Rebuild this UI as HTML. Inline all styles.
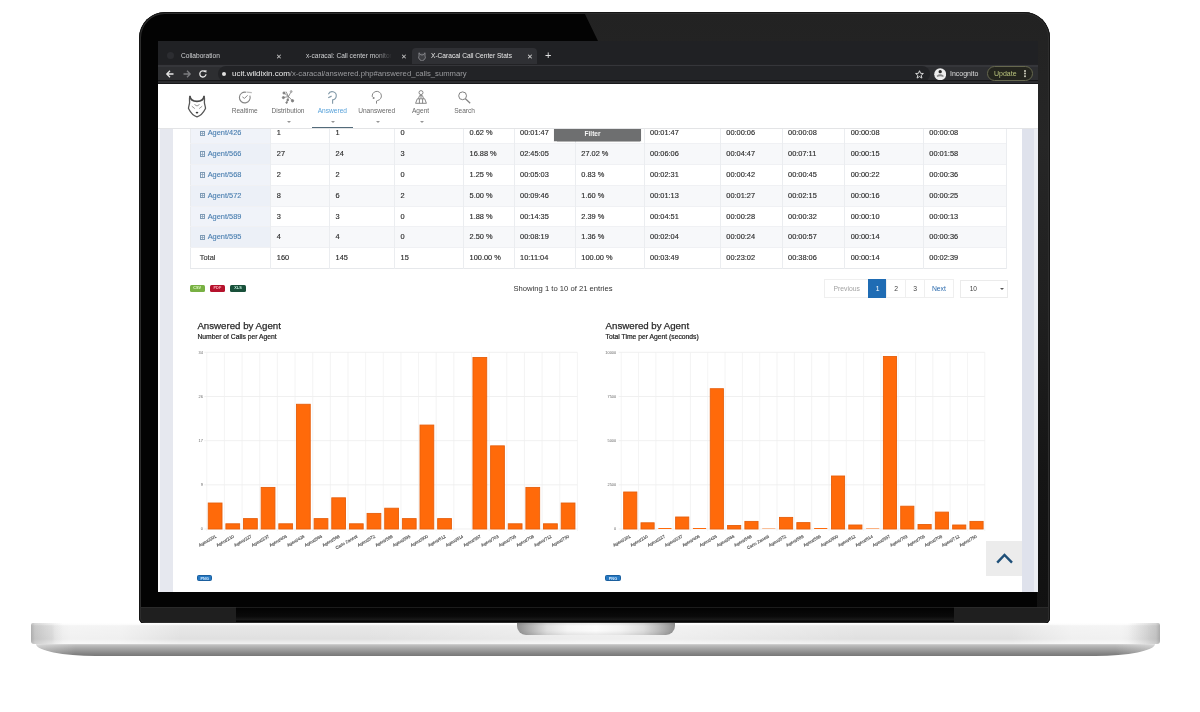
<!DOCTYPE html>
<html><head><meta charset="utf-8"><title>X-Caracal Call Center Stats</title>
<style>
*{margin:0;padding:0;box-sizing:border-box}
html,body{width:1200px;height:712px;overflow:hidden;background:#fff;font-family:"Liberation Sans",Arial,sans-serif}
.a{position:absolute}
#lid{left:139px;top:12px;width:911px;height:611.5px;background:#030303;border-radius:26px 26px 6px 6px;overflow:hidden}
#refl{left:0;top:0;width:911px;height:611px;background:linear-gradient(#222 0,#262626 130px,#202020 290px,#151515 460px,#111 611px);clip-path:polygon(445px 0,911px 0,911px 611px,898px 611px,898px 29px,459px 29px)}
#hinge{left:0;top:594.5px;width:911px;height:15px;background:#1f1f1f;border-top:1px solid #2a2a2a}
#hingeb{left:97px;top:594.5px;width:718px;height:15px;border-top:1px solid #1c1c1c;background:linear-gradient(#030303,#0a0a0a 60%,#1a1a1a 85%,#050505 92%)}
#screen{left:158px;top:41px;width:880px;height:551px;background:#fff;overflow:hidden}
#base{left:31px;top:623px;width:1129px;height:20.5px;border-radius:2px 2px 3px 3px;
 background:linear-gradient(90deg,rgba(100,100,100,.42) 0,rgba(120,120,120,.28) 4px,rgba(130,130,130,.18) 14px,rgba(150,150,150,.09) 24px,rgba(255,255,255,0) 32px,rgba(255,255,255,0) 1097px,rgba(150,150,150,.09) 1105px,rgba(130,130,130,.18) 1115px,rgba(120,120,120,.3) 1125px,rgba(100,100,100,.45) 1129px),
 linear-gradient(90deg,rgba(255,255,255,0) 0,rgba(255,255,255,0) 21px,rgba(255,255,255,.3) 24px,rgba(255,255,255,.55) 40px,rgba(255,255,255,.5) 90px,rgba(255,255,255,0) 150px,rgba(255,255,255,0) 330px,rgba(255,255,255,.45) 560px,rgba(255,255,255,.45) 640px,rgba(255,255,255,0) 830px,rgba(255,255,255,0) 980px,rgba(255,255,255,.5) 1040px,rgba(255,255,255,.55) 1090px,rgba(255,255,255,0) 1120px),
 linear-gradient(#fdfdfd 0,#fcfcfc 1.2px,#e8e8e8 2.8px,#e0e0e0 16px,#eaeaea 18.5px,#f0f0f0 20.5px)}
#base2{left:36px;top:643.5px;width:1119px;height:12.5px;border-radius:0 0 62px 62px / 0 0 12.5px 12.5px;
 background:linear-gradient(90deg,rgba(255,255,255,.35) 0,rgba(255,255,255,0) 40px,rgba(255,255,255,0) 1079px,rgba(255,255,255,.35) 1119px),linear-gradient(#d4d4d4 0,#bcbcbc 1.5px,#a2a2a2 5px,#888 9px,#747474 12.5px)}
#notch{left:516.5px;top:623px;width:158.5px;height:12px;border-radius:0 0 9px 9px;
 background:linear-gradient(rgba(0,0,0,.06) 0,rgba(0,0,0,0) 25%,rgba(0,0,0,0) 65%,rgba(0,0,0,.07) 100%),linear-gradient(90deg,#8e8e8e 0,#a4a4a4 5%,#bdbdbd 11%,#dedede 19%,#f4f4f4 32%,#fbfbfb 50%,#f2f2f2 66%,#dcdcdc 80%,#bdbdbd 89%,#a4a4a4 95%,#8e8e8e 100%)}
/* chrome */
#tabs{left:0;top:0;width:880px;height:23px;background:#202124}
#toolbar{left:0;top:23px;width:880px;height:20px;background:linear-gradient(#222225 0,#222225 1.3px,#2d2e31 1.3px)}
.tab{position:absolute;top:7px;height:16px;color:#cfd0d2;font-size:6.6px;line-height:16px;white-space:nowrap}
.tx{position:absolute;top:7px;height:16px;line-height:16px;color:#bdbdbd;font-size:7px}
#nav{left:0;top:43px;width:880px;height:44.6px;background:#fff;border-bottom:1px solid #e3e4e6;z-index:2}
#page{left:0;top:87px;width:880px;height:464px;background:linear-gradient(90deg,#fbfbfd 0,#fbfbfd 2px,#e6e8ef 2.5px,#e6e8ef 864px,#dfe2ec 864px,#dfe2ec 875.6px,#eceef3 876px);overflow:hidden}
#card{left:15px;top:0;width:849px;height:464px;background:#fff}
.nl{position:absolute;top:22.5px;width:60px;margin-left:-30px;text-align:center;font-size:6.6px;line-height:8px;color:#6a6a6a;white-space:nowrap}
.cr{position:absolute;top:37px;width:0;height:0;border-left:2px solid transparent;border-right:2px solid transparent;border-top:2.4px solid #959595}
#tbl{left:31.8px;top:-5.7px;border-collapse:collapse;table-layout:fixed;width:816.2px;font-size:7.4px;color:#2c2c2c;-webkit-text-stroke:0.15px #2c2c2c;border-left:1px solid #e9ebee;border-bottom:1px solid #e6e8eb}
#tbl td{height:20.8px;padding:0 0 0 5.5px;border-right:1px solid #ebedf0;border-top:1px solid #f0f1f4;white-space:nowrap;line-height:19.6px;background:#fff}
#tbl tr.odd td{background:#f7f8fa}
#tbl td.c1{background:#f0f3f9;padding-left:9px}
#tbl tr.odd td.c1{background:#ecf0f7}
#tbl td.c1t{background:#fff;padding-left:9px;color:#444}
.lk{color:#4a7fb0;-webkit-text-stroke:0.12px #4a7fb0}
.pl{display:inline-block;width:5.4px;height:5.4px;border:0.8px solid #7f9bb5;margin-right:2.5px;vertical-align:-0.5px;background:linear-gradient(#7f9bb5,#7f9bb5) center/100% 0.7px no-repeat,linear-gradient(#7f9bb5,#7f9bb5) center/0.7px 100% no-repeat}
#filter{left:395.75px;top:-2px;width:87.5px;height:14.5px;padding-right:10px;background:#6e6f70;color:#f4f4f4;font-weight:bold;font-size:6.6px;line-height:15px;text-align:center;box-shadow:0 0.5px 1px rgba(0,0,0,.3)}
.bd{position:absolute;width:15.4px;height:6.6px;border-radius:1.5px;font-size:3.8px;line-height:7.2px;text-align:center;font-weight:bold;letter-spacing:0.1px}
#pag{width:129.6px;height:18.5px}
.pg{position:absolute;top:0;height:18.5px;border:1px solid #efefef;border-right:none;text-align:center;font-size:6.8px;line-height:18px;background:#fff}
.ct{position:absolute;font-size:9.7px;line-height:12px;color:#2a2a2a;white-space:nowrap;-webkit-text-stroke:0.25px #2a2a2a}
.cs{position:absolute;font-size:6.75px;line-height:8px;color:#222;white-space:nowrap;-webkit-text-stroke:0.2px #222}
</style></head><body>
<div id="lid" class="a">
  <div id="refl" class="a"></div>
  <div id="hinge" class="a"></div>
  <div id="hingeb" class="a"></div>
  <div class="a" style="left:0;top:0;width:911px;height:611.5px;border-radius:26px 26px 6px 6px;box-shadow:inset 0 0 0 0.9px #151515,inset 0 0 0 2px #2d2d2d"></div>
</div>
<div id="base" class="a"></div>
<div id="base2" class="a"></div>
<div id="notch" class="a"></div>
<div id="screen" class="a">

  <div id="tabs" class="a">
    <div class="a" style="left:9px;top:11px;width:7px;height:7px;border-radius:50%;background:#2c2d31"></div>
    <div class="tab" style="left:23px">Collaboration</div>
    <div class="a" style="left:118px;top:12px;color:#d0d0d0;font-size:7px;line-height:7px">&#x2715;</div>
        <div class="tab" style="left:148px;width:86px;overflow:hidden;-webkit-mask-image:linear-gradient(90deg,#000 80%,transparent)">x-caracal: Call center monitoring</div>
    <div class="a" style="left:243px;top:12px;color:#d0d0d0;font-size:7px;line-height:7px">&#x2715;</div>
    <div class="a" style="left:254px;top:7px;width:125px;height:16px;background:#2f3034;border-radius:4px 4px 0 0"></div>
    <svg class="a" style="left:259.5px;top:10.5px" width="8" height="9.6" viewBox="0 0 20 24"><path d="M2.9 1.9 C3.3 5.6 6.5 7.4 10 7.4 C13.5 7.4 16.7 5.6 17.1 1.9 M2.9 1.9 C2.2 4 2.6 6.5 2.6 8.5 C2.6 10.5 1.4 12.5 1.5 14.5 C3.5 18.5 7 22 10 22.8 C13 22 16.5 18.5 18.5 14.5 C18.6 12.5 17.4 10.5 17.4 8.5 C17.4 6.5 17.8 4 17.1 1.9" fill="#3e3f43" stroke="#8a8b8f" stroke-width="2.4"/></svg>
    <div class="tab" style="left:273px;color:#e8e8e8">X-Caracal Call Center Stats</div>
    <div class="a" style="left:369px;top:12px;color:#e0e0e0;font-size:7px;line-height:7px">&#x2715;</div>
    <div class="a" style="left:387px;top:9px;color:#e0e0e0;font-size:11px;line-height:11px">+</div>
  </div>
  <div id="toolbar" class="a">
    <div class="a" style="left:0;top:1.3px;width:880px;height:1.3px;background:#35363a"></div>
    <div class="a" style="left:0;top:16.3px;width:880px;height:1px;background:#161618;z-index:1"></div>
    <div class="a" style="left:0;top:17.3px;width:880px;height:1.2px;background:#2b2b2e;z-index:1"></div>
    <div class="a" style="left:0;top:18.5px;width:880px;height:1.5px;background:#18181a;z-index:1"></div>
    <svg class="a" style="left:7px;top:5px" width="10" height="10" viewBox="0 0 10 10"><path d="M8.5 5H2M5 1.8L1.8 5 5 8.2" stroke="#e6e6e6" stroke-width="1.3" fill="none"/></svg>
    <svg class="a" style="left:24px;top:5px" width="10" height="10" viewBox="0 0 10 10"><path d="M1.5 5H8M5 1.8L8.2 5 5 8.2" stroke="#7c7d80" stroke-width="1.3" fill="none"/></svg>
    <svg class="a" style="left:40px;top:5px" width="10" height="10" viewBox="0 0 10 10"><path d="M8 5.2A3.1 3.1 0 1 1 7.1 2.7" stroke="#e6e6e6" stroke-width="1.3" fill="none"/><path d="M5.8 1.4L8.6 1.2 8.2 4z" fill="#e6e6e6"/></svg>
    <div class="a" style="left:60px;top:2px;width:712px;height:16px;border-radius:8px;background:#222326"></div>
    <div class="a" style="left:64px;top:8px;width:4px;height:4px;border-radius:50%;background:#e0e0e0"></div>
    <div class="a" style="left:74px;top:3px;line-height:14px;font-size:8px;color:#9a9b9e;white-space:nowrap"><span style="color:#ececec">ucit.wildixin.com</span><span style="font-size:7.7px">/x-caracal/answered.php#answered_calls_summary</span></div>
    <svg class="a" style="left:756.5px;top:5.5px" width="9" height="9" viewBox="0 0 10 10"><path d="M5 0.8 L6.2 3.7 L9.3 3.9 L6.9 5.9 L7.7 9 L5 7.3 L2.3 9 L3.1 5.9 L0.7 3.9 L3.8 3.7Z" fill="none" stroke="#e6e6e6" stroke-width="1"/></svg>
    <svg class="a" style="left:775.5px;top:3.8px" width="12.4" height="12.4" viewBox="0 0 12 12"><circle cx="6" cy="6" r="5.8" fill="#ededed"/><circle cx="6" cy="3.6" r="1.6" fill="#2a2a2a"/><path d="M2.6 7.4 Q6 4.6 9.4 7.4 L9 8.6 Q6 7.6 3 8.6Z" fill="#8a8a8a"/></svg>
    <div class="a" style="left:792px;top:3px;line-height:14px;font-size:7px;color:#dedede">Incognito</div>
    <div class="a" style="left:829px;top:2.4px;width:46px;height:15px;border-radius:7.5px;border:1.5px solid #66684e;background:#24251e;z-index:2"></div>
    <div class="a" style="left:836px;top:3px;line-height:14px;font-size:7px;color:#b9c47c;z-index:3">Update</div>
    <div class="a" style="left:866px;top:6px;width:1.6px;height:1.6px;border-radius:50%;background:#c0c0b0;box-shadow:0 2.6px 0 #c0c0b0,0 5.2px 0 #c0c0b0;z-index:3"></div>
  </div>
  <div id="nav" class="a">
    <svg class="a" style="left:29px;top:10px" width="20" height="24" viewBox="0 0 20 24">
      <path d="M2.9 1.9 C3.3 5.6 6.5 7.4 10 7.4 C13.5 7.4 16.7 5.6 17.1 1.9" fill="none" stroke="#4a4a4a" stroke-width="1.6"/>
      <path d="M2.9 1.9 C2.2 4 2.6 6.5 2.6 8.5 C2.6 10.5 1.4 12.5 1.5 14.5 C3.5 18.5 7 22 10 22.8 C13 22 16.5 18.5 18.5 14.5 C18.6 12.5 17.4 10.5 17.4 8.5 C17.4 6.5 17.8 4 17.1 1.9" fill="none" stroke="#555" stroke-width="1.3" stroke-linejoin="round"/>
      <path d="M4.8 12.2 L7.8 14.6 M15.2 12.2 L12.2 14.6 M7.5 10.5 L10 12 L12.5 10.5" fill="none" stroke="#8a8a8a" stroke-width="0.9"/>
      <ellipse cx="10" cy="18.6" rx="1.3" ry="0.9" fill="#3a3a3a"/>
    </svg>
    <svg class="a" style="left:80px;top:6px" width="16" height="14" viewBox="0 0 16 14"><path d="M11.87 5.65 A5.4 5.4 0 1 1 8.2 2.28" fill="none" stroke="#858585" stroke-width="1.1"/><path d="M8.6 2.2 L13.8 2.6" stroke="#bdbdbd" stroke-width="1.2"/><path d="M4.4 6.9 L6.5 8.4 L9.6 5.3" fill="none" stroke="#8a8a8a" stroke-width="1"/></svg>
    <svg class="a" style="left:123px;top:5px" width="14" height="16" viewBox="0 0 14 16"><g stroke="#7e7e7e" stroke-width="0.8" fill="#7e7e7e"><path d="M7.5 7.5 L3 4 M7.5 7.5 L5 2.6 M7.5 7.5 L10.2 2.6 M7.5 7.5 L2.4 8.6 M7.5 7.5 L6.7 11 L5.6 13.6 M7.5 7.5 L11.5 11.8" fill="none"/><circle cx="3" cy="4" r="1.1"/><circle cx="2.4" cy="8.6" r="1.1"/><circle cx="10.2" cy="2.6" r="1" fill="#aaa" stroke="#aaa"/><circle cx="6.7" cy="11" r="0.9"/><circle cx="5.6" cy="13.6" r="0.8"/><circle cx="11.5" cy="11.8" r="1.2"/></g></svg>
    <svg class="a" style="left:167px;top:5px" width="14" height="16" viewBox="0 0 14 16"><path d="M3.4 5.2 A4.1 4.1 0 1 1 7.6 10.9 V14.7" fill="none" stroke="#8299a8" stroke-width="1.1"/><path d="M3.2 8.7 L6.6 7.1" stroke="#8299a8" stroke-width="1.2"/></svg>
    <svg class="a" style="left:212px;top:5px" width="14" height="16" viewBox="0 0 14 16"><path d="M2.3 7.9 A4.6 4.6 0 1 1 7.6 11.5 L6.5 12 V14.6" fill="none" stroke="#858585" stroke-width="1"/><circle cx="3.6" cy="9" r="1" fill="#858585"/></svg>
    <svg class="a" style="left:255.5px;top:5px" width="14" height="16" viewBox="0 0 14 16"><g fill="none" stroke="#7a7a7a" stroke-width="0.9" stroke-linejoin="round"><circle cx="7" cy="3.6" r="2"/><path d="M4.4 9.6 L5.6 6.6 H8.4 L9.6 9.6 M7 6.6 V9.4"/><path d="M1.6 14.3 L3.3 9.8 H10.7 L12.4 14.3 Z M5.4 9.8 V14.3 M8.6 9.8 V14.3"/></g></svg>
    <svg class="a" style="left:300px;top:5px" width="14" height="16" viewBox="0 0 14 16"><circle cx="4.6" cy="6.8" r="3.9" fill="none" stroke="#808080" stroke-width="1"/><path d="M7.4 9.7 L12.2 14.2" stroke="#808080" stroke-width="1.2"/></svg>
    <div class="nl" style="left:86.7px">Realtime</div>
    <div class="nl" style="left:130px">Distribution</div>
    <div class="nl" style="left:174.4px;color:#58a2da">Answered</div>
    <div class="nl" style="left:218.7px">Unanswered</div>
    <div class="nl" style="left:262.6px">Agent</div>
    <div class="nl" style="left:306.6px">Search</div>
    <div class="cr" style="left:129px"></div>
    <div class="cr" style="left:173.4px"></div>
    <div class="cr" style="left:217.7px"></div>
    <div class="cr" style="left:261.6px"></div>
    <div class="a" style="left:154px;top:42.5px;width:41px;height:1.2px;background:#536b7a"></div>
  </div>
  <div id="page" class="a"><div id="card" class="a"></div>
<table id="tbl" class="a"><colgroup><col style="width:80.5px"><col style="width:58.75px"><col style="width:65px"><col style="width:69px"><col style="width:50.5px"><col style="width:61.25px"><col style="width:68.75px"><col style="width:76.25px"><col style="width:61.75px"><col style="width:62.7px"><col style="width:78.6px"><col style="width:83.1px"></colgroup>
<tr><td class="c1"><span class="pl"></span><span class="lk">Agent/426</span></td><td>1</td><td>1</td><td>0</td><td>0.62 %</td><td>00:01:47</td><td></td><td>00:01:47</td><td>00:00:06</td><td>00:00:08</td><td>00:00:08</td><td>00:00:08</td></tr>
<tr class="odd"><td class="c1"><span class="pl"></span><span class="lk">Agent/566</span></td><td>27</td><td>24</td><td>3</td><td>16.88 %</td><td>02:45:05</td><td>27.02 %</td><td>00:06:06</td><td>00:04:47</td><td>00:07:11</td><td>00:00:15</td><td>00:01:58</td></tr>
<tr><td class="c1"><span class="pl"></span><span class="lk">Agent/568</span></td><td>2</td><td>2</td><td>0</td><td>1.25 %</td><td>00:05:03</td><td>0.83 %</td><td>00:02:31</td><td>00:00:42</td><td>00:00:45</td><td>00:00:22</td><td>00:00:36</td></tr>
<tr class="odd"><td class="c1"><span class="pl"></span><span class="lk">Agent/572</span></td><td>8</td><td>6</td><td>2</td><td>5.00 %</td><td>00:09:46</td><td>1.60 %</td><td>00:01:13</td><td>00:01:27</td><td>00:02:15</td><td>00:00:16</td><td>00:00:25</td></tr>
<tr><td class="c1"><span class="pl"></span><span class="lk">Agent/589</span></td><td>3</td><td>3</td><td>0</td><td>1.88 %</td><td>00:14:35</td><td>2.39 %</td><td>00:04:51</td><td>00:00:28</td><td>00:00:32</td><td>00:00:10</td><td>00:00:13</td></tr>
<tr class="odd"><td class="c1"><span class="pl"></span><span class="lk">Agent/595</span></td><td>4</td><td>4</td><td>0</td><td>2.50 %</td><td>00:08:19</td><td>1.36 %</td><td>00:02:04</td><td>00:00:24</td><td>00:00:57</td><td>00:00:14</td><td>00:00:36</td></tr>
<tr><td class="c1t">Total</td><td>160</td><td>145</td><td>15</td><td>100.00 %</td><td>10:11:04</td><td>100.00 %</td><td>00:03:49</td><td>00:23:02</td><td>00:38:06</td><td>00:00:14</td><td>00:02:39</td></tr>
</table>
<div class="a" id="filter">Filter</div>
<div class="bd" style="left:31.5px;top:157.3px;background:#78b043;color:#e4fbc8">CSV</div>
<div class="bd" style="left:51.7px;top:157.3px;background:#b5122c;color:#ffb0bd">PDF</div>
<div class="bd" style="left:72.3px;top:157.3px;background:#19503a;color:#c0eedb">XLS</div>
<div class="a" style="left:355.5px;top:155.5px;font-size:7.65px;line-height:9px;color:#333;white-space:nowrap">Showing 1 to 10 of 21 entries</div>

<div class="ct" style="left:39.4px;top:191.5px">Answered by Agent</div>
<div class="cs" style="left:39.4px;top:204.5px">Number of Calls per Agent</div>
<div class="ct" style="left:447.6px;top:191.5px">Answered by Agent</div>
<div class="cs" style="left:447.6px;top:204.5px">Total Time per Agent (seconds)</div>
<svg class="a" style="left:0;top:0" width="880" height="464" viewBox="158 128 880 464" font-family="Liberation Sans, Arial, sans-serif">
<line x1="204.30" y1="352.30" x2="577.40" y2="352.30" stroke="#e9e9e9" stroke-width="0.7"/>
<text x="202.80" y="353.70" text-anchor="end" font-size="3.9" fill="#666">34</text>
<line x1="204.30" y1="396.48" x2="577.40" y2="396.48" stroke="#e9e9e9" stroke-width="0.7"/>
<text x="202.80" y="397.88" text-anchor="end" font-size="3.9" fill="#666">26</text>
<line x1="204.30" y1="440.65" x2="577.40" y2="440.65" stroke="#e9e9e9" stroke-width="0.7"/>
<text x="202.80" y="442.05" text-anchor="end" font-size="3.9" fill="#666">17</text>
<line x1="204.30" y1="484.82" x2="577.40" y2="484.82" stroke="#e9e9e9" stroke-width="0.7"/>
<text x="202.80" y="486.22" text-anchor="end" font-size="3.9" fill="#666">9</text>
<line x1="204.30" y1="529.00" x2="577.40" y2="529.00" stroke="#e9e9e9" stroke-width="0.7"/>
<text x="202.80" y="530.40" text-anchor="end" font-size="3.9" fill="#666">0</text>
<line x1="206.80" y1="352.30" x2="206.80" y2="531.00" stroke="#efefef" stroke-width="0.7"/>
<line x1="224.45" y1="352.30" x2="224.45" y2="531.00" stroke="#efefef" stroke-width="0.7"/>
<line x1="242.10" y1="352.30" x2="242.10" y2="531.00" stroke="#efefef" stroke-width="0.7"/>
<line x1="259.74" y1="352.30" x2="259.74" y2="531.00" stroke="#efefef" stroke-width="0.7"/>
<line x1="277.39" y1="352.30" x2="277.39" y2="531.00" stroke="#efefef" stroke-width="0.7"/>
<line x1="295.04" y1="352.30" x2="295.04" y2="531.00" stroke="#efefef" stroke-width="0.7"/>
<line x1="312.69" y1="352.30" x2="312.69" y2="531.00" stroke="#efefef" stroke-width="0.7"/>
<line x1="330.33" y1="352.30" x2="330.33" y2="531.00" stroke="#efefef" stroke-width="0.7"/>
<line x1="347.98" y1="352.30" x2="347.98" y2="531.00" stroke="#efefef" stroke-width="0.7"/>
<line x1="365.63" y1="352.30" x2="365.63" y2="531.00" stroke="#efefef" stroke-width="0.7"/>
<line x1="383.28" y1="352.30" x2="383.28" y2="531.00" stroke="#efefef" stroke-width="0.7"/>
<line x1="400.92" y1="352.30" x2="400.92" y2="531.00" stroke="#efefef" stroke-width="0.7"/>
<line x1="418.57" y1="352.30" x2="418.57" y2="531.00" stroke="#efefef" stroke-width="0.7"/>
<line x1="436.22" y1="352.30" x2="436.22" y2="531.00" stroke="#efefef" stroke-width="0.7"/>
<line x1="453.87" y1="352.30" x2="453.87" y2="531.00" stroke="#efefef" stroke-width="0.7"/>
<line x1="471.51" y1="352.30" x2="471.51" y2="531.00" stroke="#efefef" stroke-width="0.7"/>
<line x1="489.16" y1="352.30" x2="489.16" y2="531.00" stroke="#efefef" stroke-width="0.7"/>
<line x1="506.81" y1="352.30" x2="506.81" y2="531.00" stroke="#efefef" stroke-width="0.7"/>
<line x1="524.46" y1="352.30" x2="524.46" y2="531.00" stroke="#efefef" stroke-width="0.7"/>
<line x1="542.10" y1="352.30" x2="542.10" y2="531.00" stroke="#efefef" stroke-width="0.7"/>
<line x1="559.75" y1="352.30" x2="559.75" y2="531.00" stroke="#efefef" stroke-width="0.7"/>
<line x1="577.40" y1="352.30" x2="577.40" y2="531.00" stroke="#efefef" stroke-width="0.7"/>
<rect x="208.24" y="503.01" width="13.77" height="25.99" fill="#ff6a0a" stroke="#e75f0c" stroke-width="0.9"/>
<rect x="225.89" y="523.80" width="13.77" height="5.20" fill="#ff6a0a" stroke="#e75f0c" stroke-width="0.9"/>
<rect x="243.54" y="518.61" width="13.77" height="10.39" fill="#ff6a0a" stroke="#e75f0c" stroke-width="0.9"/>
<rect x="261.18" y="487.42" width="13.77" height="41.58" fill="#ff6a0a" stroke="#e75f0c" stroke-width="0.9"/>
<rect x="278.83" y="523.80" width="13.77" height="5.20" fill="#ff6a0a" stroke="#e75f0c" stroke-width="0.9"/>
<rect x="296.48" y="404.27" width="13.77" height="124.73" fill="#ff6a0a" stroke="#e75f0c" stroke-width="0.9"/>
<rect x="314.13" y="518.61" width="13.77" height="10.39" fill="#ff6a0a" stroke="#e75f0c" stroke-width="0.9"/>
<rect x="331.77" y="497.82" width="13.77" height="31.18" fill="#ff6a0a" stroke="#e75f0c" stroke-width="0.9"/>
<rect x="349.42" y="523.80" width="13.77" height="5.20" fill="#ff6a0a" stroke="#e75f0c" stroke-width="0.9"/>
<rect x="367.07" y="513.41" width="13.77" height="15.59" fill="#ff6a0a" stroke="#e75f0c" stroke-width="0.9"/>
<rect x="384.72" y="508.21" width="13.77" height="20.79" fill="#ff6a0a" stroke="#e75f0c" stroke-width="0.9"/>
<rect x="402.37" y="518.61" width="13.77" height="10.39" fill="#ff6a0a" stroke="#e75f0c" stroke-width="0.9"/>
<rect x="420.01" y="425.06" width="13.77" height="103.94" fill="#ff6a0a" stroke="#e75f0c" stroke-width="0.9"/>
<rect x="437.66" y="518.61" width="13.77" height="10.39" fill="#ff6a0a" stroke="#e75f0c" stroke-width="0.9"/>
<rect x="472.96" y="357.50" width="13.77" height="171.50" fill="#ff6a0a" stroke="#e75f0c" stroke-width="0.9"/>
<rect x="490.60" y="445.85" width="13.77" height="83.15" fill="#ff6a0a" stroke="#e75f0c" stroke-width="0.9"/>
<rect x="508.25" y="523.80" width="13.77" height="5.20" fill="#ff6a0a" stroke="#e75f0c" stroke-width="0.9"/>
<rect x="525.90" y="487.42" width="13.77" height="41.58" fill="#ff6a0a" stroke="#e75f0c" stroke-width="0.9"/>
<rect x="543.55" y="523.80" width="13.77" height="5.20" fill="#ff6a0a" stroke="#e75f0c" stroke-width="0.9"/>
<rect x="561.19" y="503.01" width="13.77" height="25.99" fill="#ff6a0a" stroke="#e75f0c" stroke-width="0.9"/>
<text transform="translate(216.62,537.20) rotate(-30)" text-anchor="end" font-size="4.3" fill="#4a4a4a" stroke="#4a4a4a" stroke-width="0.12">Agent/201</text>
<text transform="translate(234.27,537.20) rotate(-30)" text-anchor="end" font-size="4.3" fill="#4a4a4a" stroke="#4a4a4a" stroke-width="0.12">Agent/210</text>
<text transform="translate(251.92,537.20) rotate(-30)" text-anchor="end" font-size="4.3" fill="#4a4a4a" stroke="#4a4a4a" stroke-width="0.12">Agent/227</text>
<text transform="translate(269.57,537.20) rotate(-30)" text-anchor="end" font-size="4.3" fill="#4a4a4a" stroke="#4a4a4a" stroke-width="0.12">Agent/237</text>
<text transform="translate(287.21,537.20) rotate(-30)" text-anchor="end" font-size="4.3" fill="#4a4a4a" stroke="#4a4a4a" stroke-width="0.12">Agent/406</text>
<text transform="translate(304.86,537.20) rotate(-30)" text-anchor="end" font-size="4.3" fill="#4a4a4a" stroke="#4a4a4a" stroke-width="0.12">Agent/426</text>
<text transform="translate(322.51,537.20) rotate(-30)" text-anchor="end" font-size="4.3" fill="#4a4a4a" stroke="#4a4a4a" stroke-width="0.12">Agent/566</text>
<text transform="translate(340.16,537.20) rotate(-30)" text-anchor="end" font-size="4.3" fill="#4a4a4a" stroke="#4a4a4a" stroke-width="0.12">Agent/568</text>
<text transform="translate(357.80,537.20) rotate(-30)" text-anchor="end" font-size="4.3" fill="#4a4a4a" stroke="#4a4a4a" stroke-width="0.12">Carlo Zanetti</text>
<text transform="translate(375.45,537.20) rotate(-30)" text-anchor="end" font-size="4.3" fill="#4a4a4a" stroke="#4a4a4a" stroke-width="0.12">Agent/572</text>
<text transform="translate(393.10,537.20) rotate(-30)" text-anchor="end" font-size="4.3" fill="#4a4a4a" stroke="#4a4a4a" stroke-width="0.12">Agent/589</text>
<text transform="translate(410.75,537.20) rotate(-30)" text-anchor="end" font-size="4.3" fill="#4a4a4a" stroke="#4a4a4a" stroke-width="0.12">Agent/595</text>
<text transform="translate(428.40,537.20) rotate(-30)" text-anchor="end" font-size="4.3" fill="#4a4a4a" stroke="#4a4a4a" stroke-width="0.12">Agent/600</text>
<text transform="translate(446.04,537.20) rotate(-30)" text-anchor="end" font-size="4.3" fill="#4a4a4a" stroke="#4a4a4a" stroke-width="0.12">Agent/612</text>
<text transform="translate(463.69,537.20) rotate(-30)" text-anchor="end" font-size="4.3" fill="#4a4a4a" stroke="#4a4a4a" stroke-width="0.12">Agent/614</text>
<text transform="translate(481.34,537.20) rotate(-30)" text-anchor="end" font-size="4.3" fill="#4a4a4a" stroke="#4a4a4a" stroke-width="0.12">Agent/657</text>
<text transform="translate(498.99,537.20) rotate(-30)" text-anchor="end" font-size="4.3" fill="#4a4a4a" stroke="#4a4a4a" stroke-width="0.12">Agent/703</text>
<text transform="translate(516.63,537.20) rotate(-30)" text-anchor="end" font-size="4.3" fill="#4a4a4a" stroke="#4a4a4a" stroke-width="0.12">Agent/705</text>
<text transform="translate(534.28,537.20) rotate(-30)" text-anchor="end" font-size="4.3" fill="#4a4a4a" stroke="#4a4a4a" stroke-width="0.12">Agent/708</text>
<text transform="translate(551.93,537.20) rotate(-30)" text-anchor="end" font-size="4.3" fill="#4a4a4a" stroke="#4a4a4a" stroke-width="0.12">Agent/712</text>
<text transform="translate(569.58,537.20) rotate(-30)" text-anchor="end" font-size="4.3" fill="#4a4a4a" stroke="#4a4a4a" stroke-width="0.12">Agent/750</text>
<line x1="618.70" y1="352.30" x2="984.80" y2="352.30" stroke="#e9e9e9" stroke-width="0.7"/>
<text x="616.20" y="353.70" text-anchor="end" font-size="3.9" fill="#666">10000</text>
<line x1="618.70" y1="396.48" x2="984.80" y2="396.48" stroke="#e9e9e9" stroke-width="0.7"/>
<text x="616.20" y="397.88" text-anchor="end" font-size="3.9" fill="#666">7500</text>
<line x1="618.70" y1="440.65" x2="984.80" y2="440.65" stroke="#e9e9e9" stroke-width="0.7"/>
<text x="616.20" y="442.05" text-anchor="end" font-size="3.9" fill="#666">5000</text>
<line x1="618.70" y1="484.82" x2="984.80" y2="484.82" stroke="#e9e9e9" stroke-width="0.7"/>
<text x="616.20" y="486.22" text-anchor="end" font-size="3.9" fill="#666">2500</text>
<line x1="618.70" y1="529.00" x2="984.80" y2="529.00" stroke="#e9e9e9" stroke-width="0.7"/>
<text x="616.20" y="530.40" text-anchor="end" font-size="3.9" fill="#666">0</text>
<line x1="621.20" y1="352.30" x2="621.20" y2="531.00" stroke="#efefef" stroke-width="0.7"/>
<line x1="638.51" y1="352.30" x2="638.51" y2="531.00" stroke="#efefef" stroke-width="0.7"/>
<line x1="655.83" y1="352.30" x2="655.83" y2="531.00" stroke="#efefef" stroke-width="0.7"/>
<line x1="673.14" y1="352.30" x2="673.14" y2="531.00" stroke="#efefef" stroke-width="0.7"/>
<line x1="690.46" y1="352.30" x2="690.46" y2="531.00" stroke="#efefef" stroke-width="0.7"/>
<line x1="707.77" y1="352.30" x2="707.77" y2="531.00" stroke="#efefef" stroke-width="0.7"/>
<line x1="725.09" y1="352.30" x2="725.09" y2="531.00" stroke="#efefef" stroke-width="0.7"/>
<line x1="742.40" y1="352.30" x2="742.40" y2="531.00" stroke="#efefef" stroke-width="0.7"/>
<line x1="759.71" y1="352.30" x2="759.71" y2="531.00" stroke="#efefef" stroke-width="0.7"/>
<line x1="777.03" y1="352.30" x2="777.03" y2="531.00" stroke="#efefef" stroke-width="0.7"/>
<line x1="794.34" y1="352.30" x2="794.34" y2="531.00" stroke="#efefef" stroke-width="0.7"/>
<line x1="811.66" y1="352.30" x2="811.66" y2="531.00" stroke="#efefef" stroke-width="0.7"/>
<line x1="828.97" y1="352.30" x2="828.97" y2="531.00" stroke="#efefef" stroke-width="0.7"/>
<line x1="846.29" y1="352.30" x2="846.29" y2="531.00" stroke="#efefef" stroke-width="0.7"/>
<line x1="863.60" y1="352.30" x2="863.60" y2="531.00" stroke="#efefef" stroke-width="0.7"/>
<line x1="880.91" y1="352.30" x2="880.91" y2="531.00" stroke="#efefef" stroke-width="0.7"/>
<line x1="898.23" y1="352.30" x2="898.23" y2="531.00" stroke="#efefef" stroke-width="0.7"/>
<line x1="915.54" y1="352.30" x2="915.54" y2="531.00" stroke="#efefef" stroke-width="0.7"/>
<line x1="932.86" y1="352.30" x2="932.86" y2="531.00" stroke="#efefef" stroke-width="0.7"/>
<line x1="950.17" y1="352.30" x2="950.17" y2="531.00" stroke="#efefef" stroke-width="0.7"/>
<line x1="967.49" y1="352.30" x2="967.49" y2="531.00" stroke="#efefef" stroke-width="0.7"/>
<line x1="984.80" y1="352.30" x2="984.80" y2="531.00" stroke="#efefef" stroke-width="0.7"/>
<rect x="623.68" y="492.00" width="13.16" height="37.00" fill="#ff6a0a" stroke="#e75f0c" stroke-width="0.9"/>
<rect x="640.99" y="522.80" width="13.16" height="6.20" fill="#ff6a0a" stroke="#e75f0c" stroke-width="0.9"/>
<rect x="658.31" y="528.00" width="13.16" height="1.00" fill="#ff6a0a"/>
<rect x="675.62" y="517.00" width="13.16" height="12.00" fill="#ff6a0a" stroke="#e75f0c" stroke-width="0.9"/>
<rect x="692.93" y="528.00" width="13.16" height="1.00" fill="#ff6a0a"/>
<rect x="710.25" y="388.70" width="13.16" height="140.30" fill="#ff6a0a" stroke="#e75f0c" stroke-width="0.9"/>
<rect x="727.56" y="525.50" width="13.16" height="3.50" fill="#ff6a0a" stroke="#e75f0c" stroke-width="0.9"/>
<rect x="744.88" y="521.40" width="13.16" height="7.60" fill="#ff6a0a" stroke="#e75f0c" stroke-width="0.9"/>
<rect x="762.19" y="528.60" width="13.16" height="0.40" fill="#ff6a0a"/>
<rect x="779.51" y="517.40" width="13.16" height="11.60" fill="#ff6a0a" stroke="#e75f0c" stroke-width="0.9"/>
<rect x="796.82" y="522.60" width="13.16" height="6.40" fill="#ff6a0a" stroke="#e75f0c" stroke-width="0.9"/>
<rect x="814.13" y="528.00" width="13.16" height="1.00" fill="#ff6a0a"/>
<rect x="831.45" y="476.00" width="13.16" height="53.00" fill="#ff6a0a" stroke="#e75f0c" stroke-width="0.9"/>
<rect x="848.76" y="525.00" width="13.16" height="4.00" fill="#ff6a0a" stroke="#e75f0c" stroke-width="0.9"/>
<rect x="866.08" y="528.50" width="13.16" height="0.50" fill="#ff6a0a"/>
<rect x="883.39" y="356.50" width="13.16" height="172.50" fill="#ff6a0a" stroke="#e75f0c" stroke-width="0.9"/>
<rect x="900.71" y="506.20" width="13.16" height="22.80" fill="#ff6a0a" stroke="#e75f0c" stroke-width="0.9"/>
<rect x="918.02" y="524.50" width="13.16" height="4.50" fill="#ff6a0a" stroke="#e75f0c" stroke-width="0.9"/>
<rect x="935.33" y="512.10" width="13.16" height="16.90" fill="#ff6a0a" stroke="#e75f0c" stroke-width="0.9"/>
<rect x="952.65" y="525.00" width="13.16" height="4.00" fill="#ff6a0a" stroke="#e75f0c" stroke-width="0.9"/>
<rect x="969.96" y="521.40" width="13.16" height="7.60" fill="#ff6a0a" stroke="#e75f0c" stroke-width="0.9"/>
<text transform="translate(630.86,537.20) rotate(-30)" text-anchor="end" font-size="4.3" fill="#4a4a4a" stroke="#4a4a4a" stroke-width="0.12">Agent/201</text>
<text transform="translate(648.17,537.20) rotate(-30)" text-anchor="end" font-size="4.3" fill="#4a4a4a" stroke="#4a4a4a" stroke-width="0.12">Agent/210</text>
<text transform="translate(665.49,537.20) rotate(-30)" text-anchor="end" font-size="4.3" fill="#4a4a4a" stroke="#4a4a4a" stroke-width="0.12">Agent/227</text>
<text transform="translate(682.80,537.20) rotate(-30)" text-anchor="end" font-size="4.3" fill="#4a4a4a" stroke="#4a4a4a" stroke-width="0.12">Agent/237</text>
<text transform="translate(700.11,537.20) rotate(-30)" text-anchor="end" font-size="4.3" fill="#4a4a4a" stroke="#4a4a4a" stroke-width="0.12">Agent/406</text>
<text transform="translate(717.43,537.20) rotate(-30)" text-anchor="end" font-size="4.3" fill="#4a4a4a" stroke="#4a4a4a" stroke-width="0.12">Agent/426</text>
<text transform="translate(734.74,537.20) rotate(-30)" text-anchor="end" font-size="4.3" fill="#4a4a4a" stroke="#4a4a4a" stroke-width="0.12">Agent/566</text>
<text transform="translate(752.06,537.20) rotate(-30)" text-anchor="end" font-size="4.3" fill="#4a4a4a" stroke="#4a4a4a" stroke-width="0.12">Agent/568</text>
<text transform="translate(769.37,537.20) rotate(-30)" text-anchor="end" font-size="4.3" fill="#4a4a4a" stroke="#4a4a4a" stroke-width="0.12">Carlo Zanetti</text>
<text transform="translate(786.69,537.20) rotate(-30)" text-anchor="end" font-size="4.3" fill="#4a4a4a" stroke="#4a4a4a" stroke-width="0.12">Agent/572</text>
<text transform="translate(804.00,537.20) rotate(-30)" text-anchor="end" font-size="4.3" fill="#4a4a4a" stroke="#4a4a4a" stroke-width="0.12">Agent/589</text>
<text transform="translate(821.31,537.20) rotate(-30)" text-anchor="end" font-size="4.3" fill="#4a4a4a" stroke="#4a4a4a" stroke-width="0.12">Agent/595</text>
<text transform="translate(838.63,537.20) rotate(-30)" text-anchor="end" font-size="4.3" fill="#4a4a4a" stroke="#4a4a4a" stroke-width="0.12">Agent/600</text>
<text transform="translate(855.94,537.20) rotate(-30)" text-anchor="end" font-size="4.3" fill="#4a4a4a" stroke="#4a4a4a" stroke-width="0.12">Agent/612</text>
<text transform="translate(873.26,537.20) rotate(-30)" text-anchor="end" font-size="4.3" fill="#4a4a4a" stroke="#4a4a4a" stroke-width="0.12">Agent/614</text>
<text transform="translate(890.57,537.20) rotate(-30)" text-anchor="end" font-size="4.3" fill="#4a4a4a" stroke="#4a4a4a" stroke-width="0.12">Agent/657</text>
<text transform="translate(907.89,537.20) rotate(-30)" text-anchor="end" font-size="4.3" fill="#4a4a4a" stroke="#4a4a4a" stroke-width="0.12">Agent/703</text>
<text transform="translate(925.20,537.20) rotate(-30)" text-anchor="end" font-size="4.3" fill="#4a4a4a" stroke="#4a4a4a" stroke-width="0.12">Agent/705</text>
<text transform="translate(942.51,537.20) rotate(-30)" text-anchor="end" font-size="4.3" fill="#4a4a4a" stroke="#4a4a4a" stroke-width="0.12">Agent/708</text>
<text transform="translate(959.83,537.20) rotate(-30)" text-anchor="end" font-size="4.3" fill="#4a4a4a" stroke="#4a4a4a" stroke-width="0.12">Agent/712</text>
<text transform="translate(977.14,537.20) rotate(-30)" text-anchor="end" font-size="4.3" fill="#4a4a4a" stroke="#4a4a4a" stroke-width="0.12">Agent/750</text>
</svg>
<div class="bd" style="left:39px;top:446.8px;background:#2578c2;color:#d8ecff;border:0.7px solid #1b5f9e">PNG</div>
<div class="bd" style="left:447.3px;top:446.8px;background:#2578c2;color:#d8ecff;border:0.7px solid #1b5f9e">PNG</div>
<div class="a" style="left:827.9px;top:412.8px;width:36px;height:35.4px;background:#ececec">
  <svg class="a" style="left:0;top:0" width="36" height="36" viewBox="0 0 36 36"><path d="M11.2 21.7 L18.5 14 L26 21.7" fill="none" stroke="#1e4f78" stroke-width="2.4"/></svg>
</div>
<div class="a" id="pag" style="left:666px;top:151.4px">
  <div class="pg" style="left:0;width:44.3px;color:#a3a3a3">Previous</div>
  <div class="pg" style="left:44.3px;width:17.9px;background:#1f6cb4;color:#fff;border-color:#1f6cb4">1</div>
  <div class="pg" style="left:62.2px;width:19px;color:#444">2</div>
  <div class="pg" style="left:81.2px;width:19px;color:#444">3</div>
  <div class="pg" style="left:100.2px;width:29.4px;color:#2a6aad;border-right:1px solid #efefef">Next</div>
</div>
<div class="a" style="left:801.7px;top:151.8px;width:48.2px;height:17.8px;border:1px solid #ebebeb;background:#fff">
  <div class="a" style="left:9px;top:0;line-height:16px;font-size:6.6px;color:#444">10</div>
  <div class="a" style="left:39px;top:7px;width:0;height:0;border-left:2.3px solid transparent;border-right:2.3px solid transparent;border-top:2.6px solid #555"></div>
</div>

</div>
</div>
</body></html>
